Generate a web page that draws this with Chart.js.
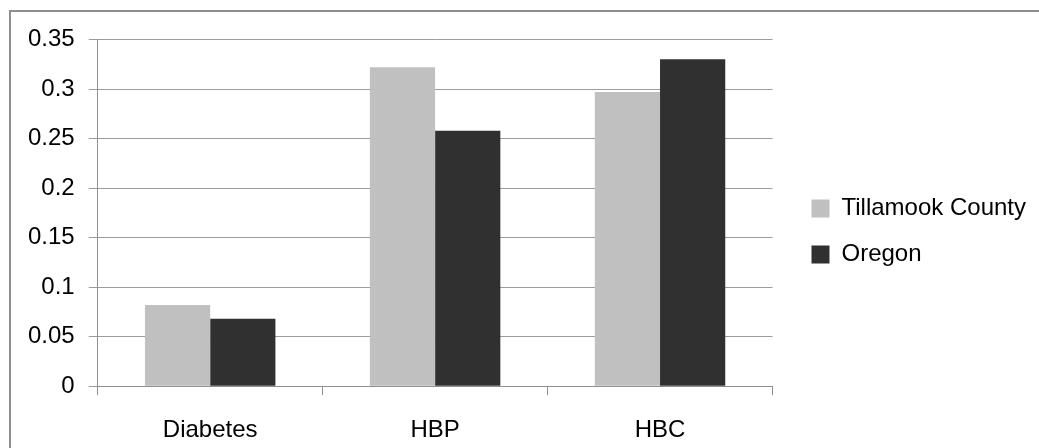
<!DOCTYPE html>
<html>
<head>
<meta charset="utf-8">
<script src="https://cdn.jsdelivr.net/npm/chart.js@4.4.1/dist/chart.umd.min.js"></script>
<style>
  html, body { margin: 0; padding: 0; background: #ffffff; }
  #wrap { position: relative; width: 1039px; height: 448px; }
</style>
</head>
<body>
<div id="wrap"><canvas id="c" width="1039" height="448"></canvas></div>
<script>
const categories = ["Diabetes", "HBP", "HBC"];
const seriesNames = ["Tillamook County", "Oregon"];
const tillamookValues = [0.082, 0.322, 0.297];
const oregonValues = [0.068, 0.258, 0.330];
const yTickLabels = ["0", "0.05", "0.1", "0.15", "0.2", "0.25", "0.3", "0.35"];

const FONT = "'Liberation Sans', Arial, sans-serif";

const frame = {
  id: 'frame',
  afterLayout(chart) {
    if (chart.legend) {
      chart.legend.left += 17;
      chart.legend.right += 17;
    }
  },
  afterDraw(chart) {
    const ctx = chart.ctx;
    ctx.save();
    ctx.strokeStyle = '#8f8f8f';
    ctx.lineWidth = 2;
    ctx.beginPath();
    ctx.moveTo(10, 448);
    ctx.lineTo(10, 11);
    ctx.lineTo(1039, 11);
    ctx.stroke();
    ctx.restore();
  }
};

new Chart(document.getElementById('c'), {
  type: 'bar',
  data: {
    labels: categories,
    datasets: [
      { label: seriesNames[0], data: tillamookValues, backgroundColor: '#c0c0c0', borderWidth: 0, xAxisID: 'x', yAxisID: 'y' },
      { label: seriesNames[1], data: oregonValues, backgroundColor: '#303030', borderWidth: 0, xAxisID: 'x', yAxisID: 'y' }
    ]
  },
  options: {
    responsive: false,
    animation: false,
    devicePixelRatio: 1,
    layout: { padding: { top: 18, left: 14, right: 20, bottom: 3 } },
    datasets: { bar: { categoryPercentage: 0.58, barPercentage: 1.0 } },
    scales: {
      x: {
        type: 'category',
        position: 'bottom',
        offset: true,
        grid: { display: true, offset: true, drawOnChartArea: false, drawTicks: true, tickLength: 9, color: '#8f8f8f', lineWidth: 1 },
        border: { display: true, color: '#8f8f8f', width: 1 },
        ticks: { color: '#000000', font: { family: FONT, size: 24 }, padding: 21, maxRotation: 0 },
        afterFit(s) { s.height = 58.8; }
      },
      xt: {
        type: 'category',
        position: 'top',
        display: true,
        grid: { display: false },
        border: { display: false },
        ticks: { display: false },
        afterFit(s) { s.height = 21.5; }
      },
      y: {
        type: 'linear',
        position: 'left',
        min: 0,
        max: 0.35,
        ticks: {
          stepSize: 0.05,
          color: '#000000',
          font: { family: FONT, size: 24 },
          padding: 14,
          callback: (v, i) => yTickLabels[i]
        },
        grid: { color: '#9c9c9c', lineWidth: 1, drawTicks: true, tickLength: 9 },
        border: { display: true, color: '#8f8f8f', width: 1 }
      }
    },
    plugins: {
      title: { display: false },
      tooltip: { enabled: false },
      legend: {
        display: true,
        position: 'right',
        align: 'center',
        maxWidth: 300,
        labels: {
          boxWidth: 18,
          boxHeight: 18,
          padding: 22,
          color: '#000000',
          font: { family: FONT, size: 24 }
        }
      }
    }
  },
  plugins: [frame]
});
</script>
</body>
</html>
